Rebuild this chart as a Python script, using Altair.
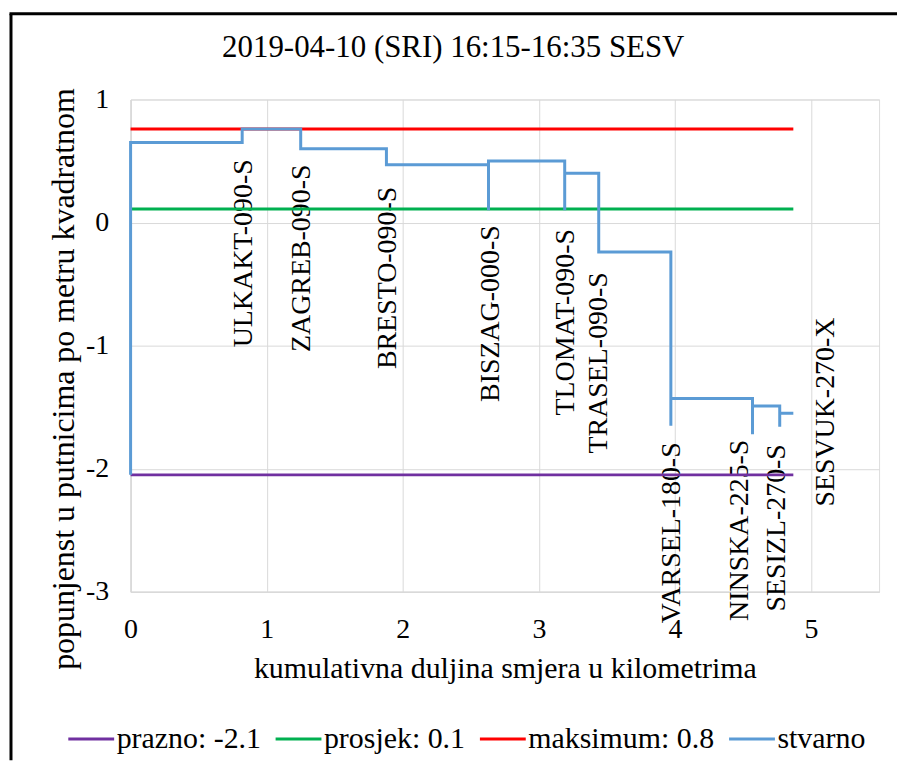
import altair as alt
import pandas as pd

# ---------------- data ----------------
title_text = "2019-04-10 (SRI) 16:15-16:35 SESV"
x_title = "kumulativna duljina smjera u kilometrima"
y_title = "popunjenst u putnicima po metru kvadratnom"

series_names = ["prazno: -2.1", "prosjek: 0.1", "maksimum: 0.8", "stvarno"]
series_colors = ["#7030A0", "#00B050", "#FF0000", "#5B9BD5"]

route_x = [0.0, 4.87]
level_prazno = -2.05
level_prosjek = 0.11
level_maksimum = 0.76

stvarno_x = [0.00, 0.00, 0.82, 0.82, 1.25, 1.25, 1.88, 1.88, 2.63, 2.63, 2.63,
             3.19, 3.19, 3.19, 3.44, 3.44, 3.97, 3.97, 3.97, 4.57, 4.57, 4.57,
             4.77, 4.77, 4.77, 4.87]
stvarno_y = [-2.05, 0.65, 0.65, 0.76, 0.76, 0.60, 0.60, 0.47, 0.47, 0.10, 0.50,
             0.50, 0.10, 0.40, 0.40, -0.24, -0.24, -1.65, -1.43, -1.43, -1.72, -1.49,
             -1.49, -1.66, -1.55, -1.55]

station_names = ["ULKAKT-090-S", "ZAGREB-090-S", "BRESTO-090-S", "BISZAG-000-S",
                 "TLOMAT-090-S", "TRASEL-090-S", "VARSEL-180-S", "NINSKA-225-S",
                 "SESIZL-270-S", "SESVUK-270-X"]
station_x = [0.83, 1.26, 1.89, 2.65, 3.20, 3.44, 3.98, 4.48, 4.75, 5.11]
station_label_y = [-0.25, -0.29, -0.45, -0.74, -0.81, -1.14, -2.52, -2.50, -2.48, -1.54]

x_ticks = [0, 1, 2, 3, 4, 5]
y_ticks = [-3, -2, -1, 0, 1]

# ---------------- build tables ----------------
rows = []
for lvl, name in [(level_prazno, series_names[0]), (level_prosjek, series_names[1]),
                  (level_maksimum, series_names[2])]:
    for i, xv in enumerate(route_x):
        rows.append({"series": name, "x": xv, "y": lvl, "order": i})
for i, (xv, yv) in enumerate(zip(stvarno_x, stvarno_y)):
    rows.append({"series": series_names[3], "x": xv, "y": yv, "order": i})
lines_df = pd.DataFrame(rows)

stations_df = pd.DataFrame({"name": station_names, "x": station_x, "y": station_label_y})

FONT = "Liberation Serif"
GRID = "#d9d9d9"

xscale = alt.Scale(domain=[0, 5.5], nice=False, zero=False)
yscale = alt.Scale(domain=[-3, 1], nice=False, zero=False)

labels = alt.Chart(stations_df).mark_text(
    angle=270, align="center", baseline="middle", font=FONT, fontSize=28, color="#000000"
).encode(
    x=alt.X("x:Q", scale=xscale),
    y=alt.Y("y:Q", scale=yscale),
    text="name:N",
)

lines = alt.Chart(lines_df).mark_line(strokeWidth=3, interpolate="linear").encode(
    x=alt.X("x:Q", scale=xscale,
            axis=alt.Axis(values=x_ticks, title=x_title, labelExpr="'' + datum.value",
                          grid=True, gridColor=GRID, domainColor=GRID, domainWidth=1.5,
                          ticks=False, labelFlush=False, labelPadding=24, titlePadding=10,
                          labelFont=FONT, labelFontSize=28, titleFont=FONT, titleFontSize=30,
                          titleFontWeight="normal", labelColor="#000", titleColor="#000")),
    y=alt.Y("y:Q", scale=yscale,
            axis=alt.Axis(values=y_ticks, title=y_title, labelExpr="'' + datum.value",
                          grid=True, gridColor=GRID, domainColor=GRID, domainWidth=1.5,
                          ticks=False, labelFlush=False, labelPadding=22, labelFont=FONT,
                          labelFontSize=28, titleFont=FONT, titleFontSize=32,
                          titleFontWeight="normal",
                          titleX=-67, titleY=280, titleAlign="center",
                          titleBaseline="middle", titleAngle=270,
                          labelColor="#000", titleColor="#000")),
    color=alt.Color("series:N",
                    scale=alt.Scale(domain=series_names, range=series_colors),
                    sort=series_names,
                    legend=alt.Legend(title=None, orient="none", direction="horizontal",
                                      legendX=-64, legendY=617,
                                      symbolType="stroke", symbolSize=2116,
                                      symbolStrokeWidth=3, labelFont=FONT, labelFontSize=30,
                                      labelColor="#000", labelOffset=1, columnPadding=8,
                                      labelLimit=400)),
    order="order:Q",
    detail="series:N",
)

dummy = pd.DataFrame({"k": [0]})
frame_left = alt.Chart(dummy).mark_rule(color="#000000", strokeWidth=3).encode(
    x=alt.value(-120), y=alt.value(-86), y2=alt.value(663))
frame_top = alt.Chart(dummy).mark_rule(color="#000000", strokeWidth=3).encode(
    x=alt.value(-121.5), x2=alt.value(769), y=alt.value(-86))

chart = alt.layer(labels, lines, frame_left, frame_top).properties(
    width=751, height=494,
    padding={"left": 0, "top": 2.5, "right": 0, "bottom": 0},
    title=alt.TitleParams(text=title_text, font=FONT, fontSize=31, fontWeight="normal",
                          color="#000", anchor="middle", frame="bounds", offset=0, dy=52),
).configure_view(stroke=None).configure(background="white", font=FONT).configure_axis(
    labelFont=FONT, titleFont=FONT).configure_legend(labelFont=FONT)

chart.save("out.html", embed_options={"renderer": "svg", "actions": False})
